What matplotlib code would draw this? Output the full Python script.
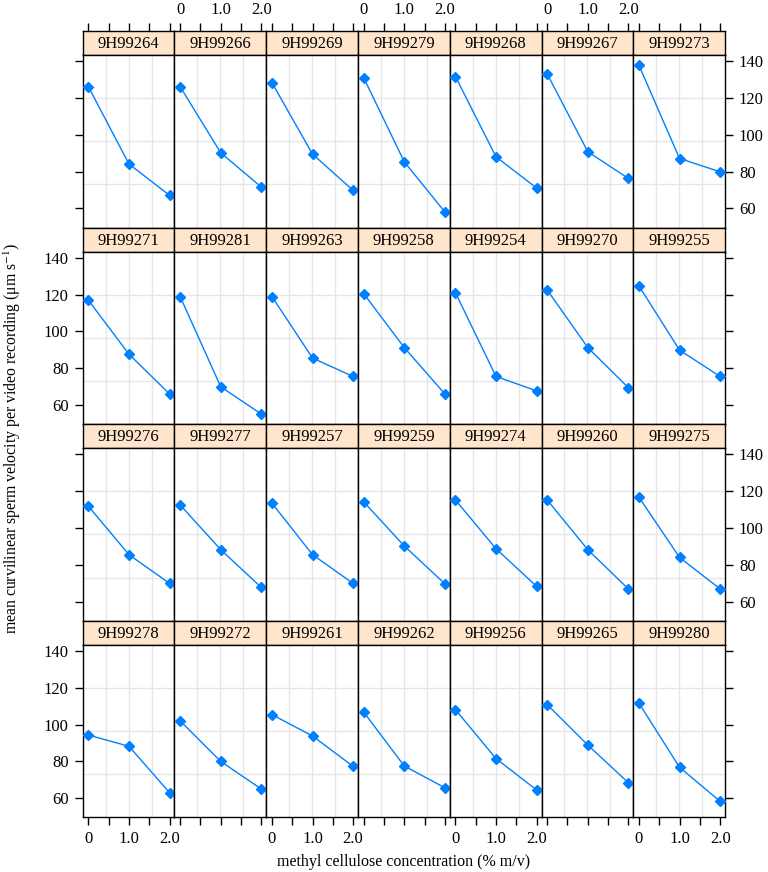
import matplotlib
matplotlib.use("Agg")
import matplotlib.pyplot as plt

plt.rcParams['font.family'] = ['Liberation Serif', 'DejaVu Serif']
plt.rcParams['mathtext.fontset'] = 'stix'

# panels in lattice order, top row first
males = [
    ["9H99264", "9H99266", "9H99269", "9H99279", "9H99268", "9H99267", "9H99273"],
    ["9H99271", "9H99281", "9H99263", "9H99258", "9H99254", "9H99270", "9H99255"],
    ["9H99276", "9H99277", "9H99257", "9H99259", "9H99274", "9H99260", "9H99275"],
    ["9H99278", "9H99272", "9H99261", "9H99262", "9H99256", "9H99265", "9H99280"],
]
conc = [0, 1.0, 2.0]
vcl = {
    "9H99264": [126.1, 84.1, 67.1], "9H99266": [126.1, 90.2, 71.6],
    "9H99269": [128.3, 89.5, 69.8], "9H99279": [131.0, 85.3, 58.1],
    "9H99268": [131.6, 88.0, 71.1], "9H99267": [133.0, 90.8, 76.3],
    "9H99273": [137.7, 87.1, 79.9],
    "9H99271": [116.9, 87.6, 66.0], "9H99281": [118.9, 69.9, 55.1],
    "9H99263": [118.9, 85.5, 75.5], "9H99258": [120.5, 91.2, 66.0],
    "9H99254": [121.0, 75.5, 67.7], "9H99270": [122.5, 91.2, 69.4],
    "9H99255": [124.7, 89.8, 75.5],
    "9H99276": [111.8, 85.5, 69.9], "9H99277": [112.5, 88.2, 67.7],
    "9H99257": [113.5, 85.5, 69.9], "9H99259": [114.2, 90.2, 69.7],
    "9H99274": [115.2, 88.7, 68.3], "9H99260": [115.2, 88.2, 66.9],
    "9H99275": [116.7, 84.0, 66.9],
    "9H99278": [94.3, 88.2, 63.0], "9H99272": [102.0, 80.0, 65.0],
    "9H99261": [105.4, 93.8, 77.3], "9H99262": [106.8, 77.5, 65.7],
    "9H99256": [108.1, 81.5, 64.5], "9H99265": [110.8, 88.9, 68.4],
    "9H99280": [111.6, 76.8, 58.3],
}
xticks = [0, 0.5, 1.0, 1.5, 2.0]
xticklabels = ["0", "", "1.0", "", "2.0"]
yticks = [60, 80, 100, 120, 140]

W, H = 768, 872
fig = plt.figure(figsize=(W / 100, H / 100), dpi=100)

left0, pw = 82.7, 91.76
top0, rowh, striph = 31.0, 196.6, 24.0
ph = rowh - striph
xlim = (-0.14, 2.12)
ylim = (49.6, 143.3)
blue = "#0080ff"
strip_col = "#ffe5cc"
grid_col = "#e6e6e6"

def box(l, t, w, h):
    return [l / W, 1 - (t + h) / H, w / W, h / H]

for r, row in enumerate(males):
    for c, m in enumerate(row):
        l = left0 + c * pw
        t = top0 + r * rowh

        # strip (top axis of the first row sits above it, like lattice)
        sax = fig.add_axes(box(l, t, pw, striph))
        sax.set_facecolor(strip_col)
        sax.set_xlim(*xlim)
        sax.set_yticks([])
        if r == 0:
            sax.set_xticks(xticks)
            sax.set_xticklabels(xticklabels)
            sax.tick_params(axis="x", direction="out", length=6, width=1.0,
                            labelsize=12, pad=3, bottom=False, labelbottom=False,
                            top=True, labeltop=(c % 2 == 1))
        else:
            sax.set_xticks([])
        sax.text(0.5, 0.45, m, ha="center", va="center", fontsize=12,
                 transform=sax.transAxes)
        for s in sax.spines.values():
            s.set_linewidth(1.0)

        ax = fig.add_axes(box(l, t + striph, pw, ph))
        ax.set_xlim(*xlim)
        ax.set_ylim(*ylim)
        for k in range(1, 4):
            ax.axvline(xlim[0] + k * (xlim[1] - xlim[0]) / 4, color=grid_col, lw=1.0, zorder=0)
            ax.axhline(ylim[0] + k * (ylim[1] - ylim[0]) / 4, color=grid_col, lw=1.0, zorder=0)
        ax.plot(conc, vcl[m], color=blue, lw=1.0, marker="D", ms=5.5,
                markerfacecolor=blue, markeredgecolor=blue, zorder=3)
        for s in ax.spines.values():
            s.set_linewidth(1.0)

        ax.set_xticks(xticks)
        ax.set_xticklabels(xticklabels)
        ax.set_yticks(yticks)
        ax.tick_params(direction="out", length=6, width=1.0, labelsize=12, pad=4)
        ax.tick_params(axis="x", bottom=(r == 3), top=False,
                       labelbottom=(r == 3 and c % 2 == 0), labeltop=False)
        ax.tick_params(axis="y", left=(c == 0), right=(c == 6),
                       labelleft=(c == 0 and r % 2 == 1),
                       labelright=(c == 6 and r % 2 == 0))

fig.text(404 / W, 1 - 862 / H, "methyl cellulose concentration (% m/v)",
         ha="center", va="center", fontsize=11.5)
fig.text(12 / W, 1 - 438 / H,
         r"mean curvilinear sperm velocity per video recording (μm s$^{-1}$)",
         ha="center", va="center", rotation=90, fontsize=11.3)

fig.savefig("out.png", dpi=100)
